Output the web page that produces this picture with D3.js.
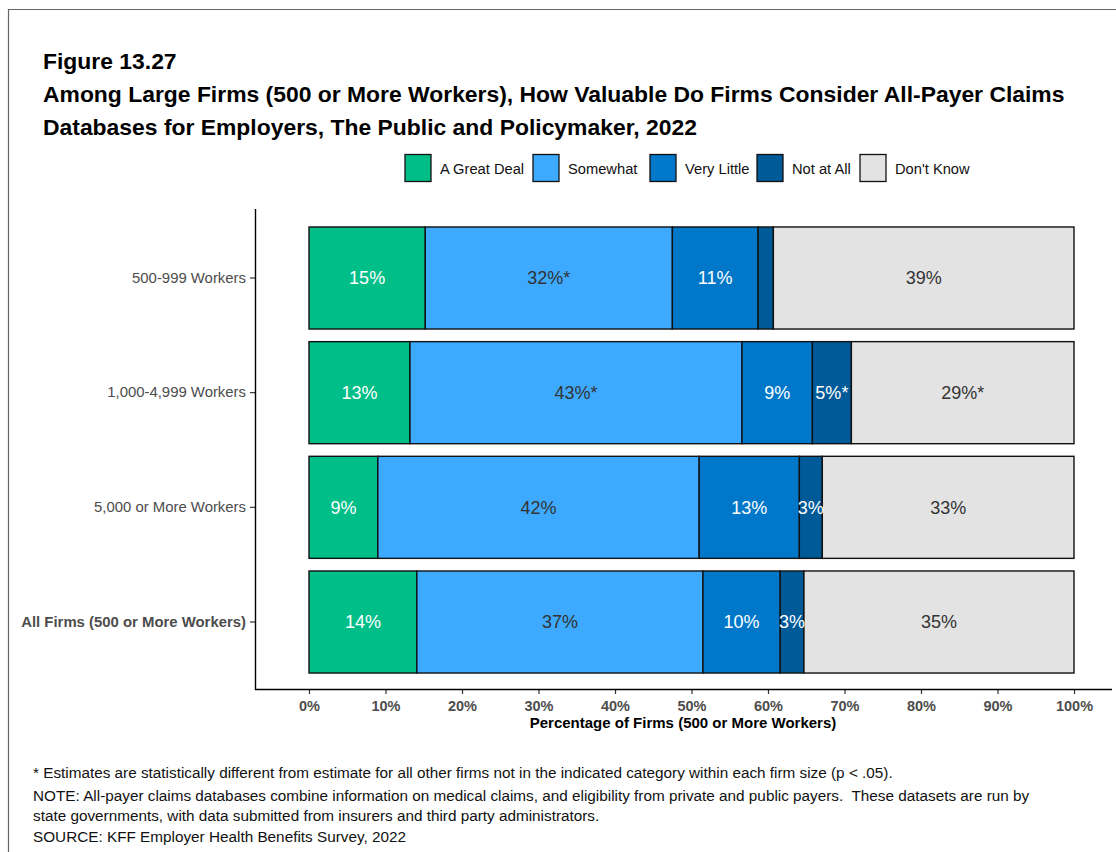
<!DOCTYPE html>
<html><head><meta charset="utf-8">
<script src="https://cdn.jsdelivr.net/npm/d3@7"></script>
<style>
html,body{margin:0;padding:0;background:#fff;}
svg{display:block;font-family:"Liberation Sans",Arial,sans-serif;}
</style></head>
<body><svg id="chart" width="1116" height="852"></svg>
<script>
const categories = ["500-999 Workers","1,000-4,999 Workers","5,000 or More Workers","All Firms (500 or More Workers)"];
const seriesNames = ["A Great Deal","Somewhat","Very Little","Not at All","Don't Know"];
const greatDeal = [15.2, 13.2, 9.0, 14.1];
const somewhat  = [32.3, 43.4, 42.0, 37.4];
const veryLittle= [11.2, 9.2, 13.1, 10.1];
const notAtAll  = [2.0, 5.1, 3.0, 3.1];
const dontKnow  = [39.3, 29.1, 32.9, 35.3];
const labels = [
  ["15%","32%*","11%","","39%"],
  ["13%","43%*","9%","5%*","29%*"],
  ["9%","42%","13%","3%","33%"],
  ["14%","37%","10%","3%","35%"]
];
const xTicks = [0,10,20,30,40,50,60,70,80,90,100];
const colors = ["#00BE88","#3DAAFF","#0077C8","#005A98","#E3E3E3"];
const labelColors = ["#ffffff","#333333","#ffffff","#ffffff","#333333"];

const svg = d3.select("#chart");
// frame
svg.append("path").attr("d","M8.5,852 L8.5,9.5 L1116,9.5").attr("fill","none").attr("stroke","#666").attr("stroke-width",1.2);

// titles
const tfs = 22.9;
svg.append("text").attr("x",43).attr("y",69).attr("font-size",tfs).attr("font-weight","bold").text("Figure 13.27");
svg.append("text").attr("x",43).attr("y",102).attr("font-size",tfs).attr("font-weight","bold").text("Among Large Firms (500 or More Workers), How Valuable Do Firms Consider All-Payer Claims");
svg.append("text").attr("x",43).attr("y",135).attr("font-size",tfs).attr("font-weight","bold").text("Databases for Employers, The Public and Policymaker, 2022");

// legend
const legendX = [405,533,650,757,860];
const lg = svg.append("g");
seriesNames.forEach((s,i)=>{
  lg.append("rect").attr("x",legendX[i]).attr("y",154.5).attr("width",26).attr("height",27).attr("fill",colors[i]).attr("stroke","#111").attr("stroke-width",1.3);
  lg.append("text").attr("x",legendX[i]+35).attr("y",173.5).attr("font-size",14.7).attr("fill","#111").text(s);
});

const rows = categories.map((c,i)=>({cat:c, "A Great Deal":greatDeal[i], "Somewhat":somewhat[i], "Very Little":veryLittle[i], "Not at All":notAtAll[i], "Don't Know":dontKnow[i]}));
const stack = d3.stack().keys(seriesNames)(rows);

const x = d3.scaleLinear().domain([0,100]).range([309,1074]);
const y = d3.scaleBand().domain(categories).range([210,690]).paddingInner(0.11).paddingOuter(0.148);

const g = svg.append("g");
stack.forEach((layer,si)=>{
  layer.forEach((d,ri)=>{
    g.append("rect").attr("x",x(d[0])).attr("y",y(d.data.cat)).attr("width",x(d[1])-x(d[0])).attr("height",y.bandwidth())
      .attr("fill",colors[si]).attr("stroke","#111").attr("stroke-width",1.4);
  });
});
stack.forEach((layer,si)=>{
  layer.forEach((d,ri)=>{
    const t = labels[ri][si];
    if(!t) return;
    g.append("text").attr("x",(x(d[0])+x(d[1]))/2).attr("y",y(d.data.cat)+y.bandwidth()/2).attr("dy","0.35em")
      .attr("text-anchor","middle").attr("font-size",18).attr("fill",labelColors[si]).text(t);
  });
});

// axes
const xAxis = d3.axisBottom(x).tickValues(xTicks).tickFormat(d=>d+"%").tickSize(5).tickSizeOuter(0);
const xa = svg.append("g").attr("transform","translate(0,689)").call(xAxis);
xa.select(".domain").remove();
xa.selectAll(".tick line").attr("stroke","#333").attr("stroke-width",1.2);
xa.selectAll(".tick text").attr("font-size",14.5).attr("font-weight","bold").attr("fill","#4d4d4d").attr("font-family","Liberation Sans, Arial, sans-serif").attr("dy","0.95em");
svg.append("line").attr("x1",255).attr("x2",1112).attr("y1",689.5).attr("y2",689.5).attr("stroke","#000").attr("stroke-width",1.4);

const yAxis = d3.axisLeft(y).tickSize(5).tickSizeOuter(0);
const ya = svg.append("g").attr("transform","translate(255,0)").call(yAxis);
ya.select(".domain").remove();
ya.selectAll(".tick line").attr("stroke","#333").attr("stroke-width",1.2);
ya.selectAll(".tick text").attr("font-size",14.9).attr("fill","#4d4d4d").attr("font-family","Liberation Sans, Arial, sans-serif").attr("x",-9)
  .attr("font-weight",d=>d.startsWith("All Firms")?"bold":"normal");
svg.append("line").attr("x1",255.5).attr("x2",255.5).attr("y1",209).attr("y2",690).attr("stroke","#000").attr("stroke-width",1.4);

svg.append("text").attr("x",683).attr("y",728).attr("text-anchor","middle").attr("font-size",15).attr("font-weight","bold").attr("fill","#000").text("Percentage of Firms (500 or More Workers)");

// notes
const notes = [
  ["* Estimates are statistically different from estimate for all other firms not in the indicated category within each firm size (p < .05).",778],
  ["NOTE: All-payer claims databases combine information on medical claims, and eligibility from private and public payers.  These datasets are run by",801],
  ["state governments, with data submitted from insurers and third party administrators.",821],
  ["SOURCE: KFF Employer Health Benefits Survey, 2022",842]
];
notes.forEach(n=>{
  svg.append("text").attr("x",33).attr("y",n[1]).attr("font-size",15.3).attr("fill","#111").attr("xml:space","preserve").text(n[0]);
});
</script></body></html>
